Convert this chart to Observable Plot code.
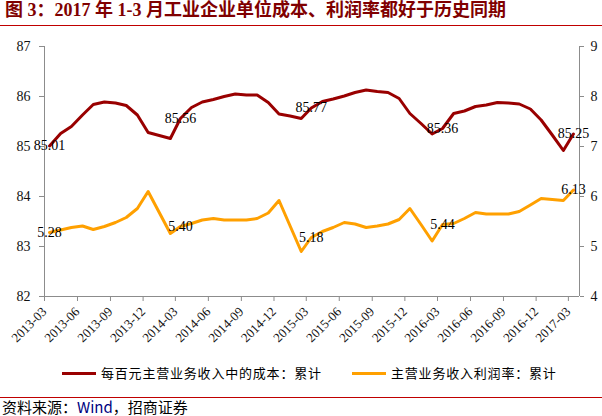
<!DOCTYPE html>
<html><head><meta charset="utf-8">
<script src="https://cdn.jsdelivr.net/npm/d3@7"></script>
<script src="https://cdn.jsdelivr.net/npm/@observablehq/plot@0.6"></script>
<style>
html,body{margin:0;padding:0;background:#fff;}
#page{position:relative;width:602px;height:416px;overflow:hidden;background:#fff;}
#title{position:absolute;left:5px;top:0;font:bold 18px/20px "Liberation Serif","Noto Sans CJK SC",serif;color:#800000;white-space:nowrap;}
.rule{position:absolute;left:0;width:602px;height:1px;background:#c00000;}
#chart{position:absolute;left:0;top:30px;}
.leg{position:absolute;top:364px;height:18px;display:flex;align-items:center;font:13px/18px "Noto Sans CJK SC",sans-serif;letter-spacing:0.8px;color:#000;white-space:nowrap;}
.leg i{display:inline-block;width:34px;height:3px;margin-right:5px;}
#caption{position:absolute;left:2px;top:399px;font:15px/16px "Noto Sans CJK SC",sans-serif;color:#000;white-space:nowrap;}
</style></head>
<body>
<div id="page">
  <div id="title">图 3：2017 年 1-3 月工业企业单位成本、利润率都好于历史同期</div>
  <div class="rule" style="top:25px"></div>
  <div id="chart"></div>
  <div class="leg" style="left:62px"><i style="background:#990000"></i><span id="leg1"></span></div>
  <div class="leg" style="left:352px"><i style="background:#FFA000"></i><span id="leg2"></span></div>
  <div class="rule" style="top:397px"></div>
  <div id="caption">资料来源：<span style="color:#000080">Wind</span>，招商证券</div>
</div>
<script>
// ---- data ----
const months = [
  "2013-03","2013-04","2013-05","2013-06","2013-07","2013-08","2013-09","2013-10","2013-11","2013-12",
  "2014-01","2014-02","2014-03","2014-04","2014-05","2014-06","2014-07","2014-08","2014-09","2014-10","2014-11","2014-12",
  "2015-01","2015-02","2015-03","2015-04","2015-05","2015-06","2015-07","2015-08","2015-09","2015-10","2015-11","2015-12",
  "2016-01","2016-02","2016-03","2016-04","2016-05","2016-06","2016-07","2016-08","2016-09","2016-10","2016-11","2016-12",
  "2017-01","2017-02","2017-03"
];
const costValues = [
  85.01, 85.26, 85.40, 85.63, 85.84, 85.89, 85.87, 85.82, 85.63, 85.28,
  85.22, 85.16, 85.56, 85.78, 85.89, 85.94, 86.00, 86.05, 86.03, 86.03, 85.88, 85.65,
  85.61, 85.56, 85.77, 85.90, 85.95, 86.01, 86.08, 86.13, 86.10, 86.08, 85.96, 85.66,
  85.46, 85.25, 85.36, 85.66, 85.71, 85.80, 85.83, 85.88, 85.87, 85.85, 85.75, 85.53,
  85.23, 84.92, 85.25
];
const profitValues = [
  5.28, 5.33, 5.38, 5.41, 5.34, 5.40, 5.48, 5.58, 5.76, 6.10,
  5.68, 5.26, 5.40, 5.46, 5.53, 5.56, 5.53, 5.53, 5.53, 5.56, 5.67, 5.92,
  5.41, 4.90, 5.18, 5.30, 5.38, 5.48, 5.45, 5.38, 5.41, 5.45, 5.54, 5.76,
  5.44, 5.11, 5.44, 5.46, 5.56, 5.68, 5.65, 5.65, 5.65, 5.70, 5.83, 5.96,
  5.94, 5.92, 6.13
];
const labelMonths = ["2013-03","2014-03","2015-03","2016-03","2017-03"];
const costLabels = [85.01, 85.56, 85.77, 85.36, 85.25];
const profitLabels = [5.28, 5.40, 5.18, 5.44, 6.13];
const xTickLabels = ["2013-03","2013-06","2013-09","2013-12","2014-03","2014-06","2014-09","2014-12",
  "2015-03","2015-06","2015-09","2015-12","2016-03","2016-06","2016-09","2016-12","2017-03"];
const leftTicks = [82, 83, 84, 85, 86, 87];
const rightTicks = [4, 5, 6, 7, 8, 9];
const seriesNames = ["每百元主营业务收入中的成本：累计", "主营业务收入利润率：累计"];

document.getElementById("leg1").textContent = seriesNames[0];
document.getElementById("leg2").textContent = seriesNames[1];

// ---- build ----
const ym = s => s.split("-").map(Number);
const midMonth = s => { const [y, m] = ym(s); return new Date(Date.UTC(y, m - 1, 15)); };
const startMonth = s => { const [y, m] = ym(s); return new Date(Date.UTC(y, m - 1, 1)); };
const OFFSET = 78; // right axis 4..9 shares the left scale 82..87

const cost = months.map((m, i) => ({date: midMonth(m), v: costValues[i]}));
const profit = months.map((m, i) => ({date: midMonth(m), v: profitValues[i]}));
const costLbl = labelMonths.map((m, i) => ({date: midMonth(m), v: costLabels[i]}));
const profitLbl = labelMonths.map((m, i) => ({date: midMonth(m), v: profitLabels[i]}));
const xDomain = [startMonth(months[0]), d3.utcMonth.offset(startMonth(months[months.length - 1]), 1)];

const axisColor = "#8c8c8c";
const chart = Plot.plot({
  width: 602, height: 330,
  marginLeft: 44, marginRight: 23, marginTop: 16, marginBottom: 64,
  style: {background: "transparent", fontFamily: "'Liberation Serif', 'Times New Roman', serif", overflow: "visible"},
  x: {type: "utc", domain: xDomain},
  y: {domain: [leftTicks[0], leftTicks[leftTicks.length - 1]]},
  marks: [
    Plot.ruleX(xDomain, {stroke: axisColor}),
    Plot.ruleY([leftTicks[0]], {stroke: axisColor}),
    Plot.axisY({anchor: "left", ticks: leftTicks, tickFormat: d => String(d), tickSize: 5, tickPadding: 9, fontSize: 14,
      stroke: axisColor, fill: "#111", label: null}),
    Plot.axisY({anchor: "right", ticks: rightTicks.map(t => t + OFFSET), tickFormat: d => String(Math.round(d - OFFSET)),
      tickSize: 4, tickPadding: 7, fontSize: 14, stroke: axisColor, fill: "#111", label: null}),
    Plot.axisX({ticks: xTickLabels.map(startMonth), tickFormat: d3.utcFormat("%Y-%m"), tickRotate: -45,
      tickSize: 5, tickPadding: 8, fontSize: 13, stroke: axisColor, fill: "#111", label: null}),
    Plot.line(cost, {x: "date", y: "v", stroke: "#990000", strokeWidth: 3}),
    Plot.line(profit, {x: "date", y: d => d.v + OFFSET, stroke: "#FFA000", strokeWidth: 3}),
    Plot.text(costLbl, {x: "date", y: "v", text: d => d.v.toFixed(2), fontSize: 14, fill: "#000"}),
    Plot.text(profitLbl, {x: "date", y: d => d.v + OFFSET, text: d => d.v.toFixed(2), fontSize: 14, fill: "#000"})
  ]
});
document.getElementById("chart").appendChild(chart);
</script>
</body></html>
